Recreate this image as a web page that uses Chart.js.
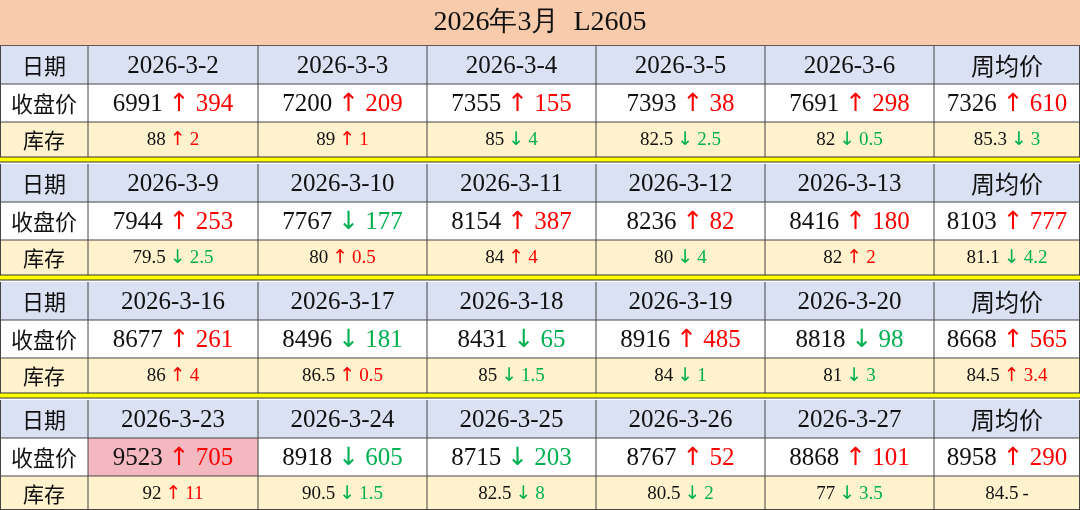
<!DOCTYPE html>
<html>
<head>
<meta charset="utf-8">
<script src="https://cdn.jsdelivr.net/npm/chart.js@4/dist/chart.umd.min.js"></script>
<style>
  html, body { margin: 0; padding: 0; background: #fff; }
  #wrap { width: 1080px; height: 510px; position: relative; }
</style>
</head>
<body>
<div id="wrap"><canvas id="c"></canvas></div>
<script>
const title = '2026年3月  L2605'
const rowLabels = ['日期', '收盘价', '库存']
const avgLabel = '周均价'

const dates = [
  ['2026-3-2', '2026-3-3', '2026-3-4', '2026-3-5', '2026-3-6'],
  ['2026-3-9', '2026-3-10', '2026-3-11', '2026-3-12', '2026-3-13'],
  ['2026-3-16', '2026-3-17', '2026-3-18', '2026-3-19', '2026-3-20'],
  ['2026-3-23', '2026-3-24', '2026-3-25', '2026-3-26', '2026-3-27']
]
// last entry of each week is the weekly average
const close = [
  [6991, 7200, 7355, 7393, 7691, 7326],
  [7944, 7767, 8154, 8236, 8416, 8103],
  [8677, 8496, 8431, 8916, 8818, 8668],
  [9523, 8918, 8715, 8767, 8868, 8958]
]
const closeChg = [
  [394, 209, 155, 38, 298, 610],
  [253, -177, 387, 82, 180, 777],
  [261, -181, -65, 485, -98, 565],
  [705, -605, -203, 52, 101, 290]
]
const stock = [
  [88, 89, 85, 82.5, 82, 85.3],
  [79.5, 80, 84, 80, 82, 81.1],
  [86, 86.5, 85, 84, 81, 84.5],
  [92, 90.5, 82.5, 80.5, 77, 84.5]
]
const stockChg = [
  [2, 1, -4, -2.5, -0.5, -3],
  [-2.5, 0.5, 4, -4, 2, -4.2],
  [4, 0.5, -1.5, -1, -3, 3.4],
  [11, -1.5, -8, -2, -3.5, 0]
]
const highlight = [[3, 0]] // week, day

// layout in scale units
const colEdges = [0, 88, 258, 427, 596, 765, 934, 1080]
const blockTops = [46, 164, 282, 400]
const rowH = [38, 38, 35]

const RED = '#ff0000'
const GREEN = '#00b050'
const serif = '"Liberation Serif", "DejaVu Serif", serif'
const cjk = '"Noto Sans CJK SC", sans-serif'

const tablePlugin = {
  id: 'table',
  afterDraw (chart) {
    const ctx = chart.ctx
    const xs = chart.scales.x
    const ys = chart.scales.y
    const X = v => xs.getPixelForValue(v)
    const Y = v => ys.getPixelForValue(v)
    const rect = (x0, y0, x1, y1, fill) => {
      ctx.fillStyle = fill
      ctx.fillRect(X(x0), Y(y0), X(x1) - X(x0), Y(y1) - Y(y0))
    }
    const line = (x0, y0, x1, y1, color, w) => {
      ctx.strokeStyle = color
      ctx.lineWidth = w
      ctx.beginPath()
      ctx.moveTo(X(x0), Y(y0))
      ctx.lineTo(X(x1), Y(y1))
      ctx.stroke()
    }
    // pieces: [{text, color, font}] centered at cx, cy
    const runs = (pieces, cx, cy, gap) => {
      let total = 0
      pieces.forEach((p, i) => {
        ctx.font = p.font
        p.w = ctx.measureText(p.text).width
        total += p.w + (i ? gap : 0)
      })
      let x = X(cx) - total / 2
      ctx.textBaseline = 'middle'
      ctx.textAlign = 'left'
      pieces.forEach(p => {
        ctx.font = p.font
        ctx.fillStyle = p.color
        ctx.fillText(p.text, x, Y(cy))
        x += p.w + gap
      })
    }
    const fmt = v => String(v)
    const changePieces = (v, chg, size) => {
      const f = `${size}px ${serif}`
      const out = [{ text: fmt(v), color: '#111', font: f }]
      if (chg === 0) {
        out.push({ text: '-', color: '#111', font: f })
      } else {
        const c = chg > 0 ? RED : GREEN
        out.push({ text: chg > 0 ? '↑' : '↓', color: c, font: `${size}px "DejaVu Sans", sans-serif` })
        out.push({ text: fmt(Math.abs(chg)), color: c, font: f })
      }
      return out
    }

    ctx.save()
    // title
    rect(0, 0, 1080, 46, '#f8cbad')
    runs([{ text: title, color: '#111', font: `28px ${serif}` }], 540, 23, 0)
    line(0, 46, 1080, 46, '#333', 1.5)

    blockTops.forEach((top, w) => {
      const r0 = top
      const r1 = r0 + rowH[0]
      const r2 = r1 + rowH[1]
      const r3 = r2 + rowH[2]
      rect(0, r0, 1080, r1, '#d9e1f2')
      rect(0, r1, 1080, r2, '#ffffff')
      rect(0, r2, 1080, r3, '#fff2cc')
      highlight.forEach(([hw, hd]) => {
        if (hw === w) rect(colEdges[hd + 1], r1, colEdges[hd + 2], r2, '#f4b8c0')
      })
      // labels
      const mids = [(r0 + r1) / 2, (r1 + r2) / 2, (r2 + r3) / 2]
      rowLabels.forEach((lab, i) => {
        runs([{ text: lab, color: '#111', font: `${i === 2 ? 21 : 22}px ${cjk}` }], 44, mids[i] + 1, 0)
      })
      for (let d = 0; d < 6; d++) {
        const cx = (colEdges[d + 1] + colEdges[d + 2]) / 2
        if (d < 5) runs([{ text: dates[w][d], color: '#111', font: `25px ${serif}` }], cx, mids[0] + 1, 0)
        else runs([{ text: avgLabel, color: '#111', font: `24px ${cjk}` }], cx, mids[0] + 1, 0)
        runs(changePieces(close[w][d], closeChg[w][d], 25), cx, mids[1] + 1, 6)
        runs(changePieces(stock[w][d], stockChg[w][d], 19), cx, mids[2] + 1, 4)
      }
      // grid
      ;[r1, r2].forEach(y => line(0, y, 1080, y, '#444', 1))
      colEdges.slice(1, -1).forEach(x => line(x, r0, x, r3, '#444', 1))
      line(0.5, r0, 0.5, r3, '#444', 1)
      line(1079.5, r0, 1079.5, r3, '#444', 1)
      if (w < 3) {
        rect(0, r3, 1080, r3 + 5, '#ffff00')
        line(0, r3, 1080, r3, '#333', 1.2)
        line(0, r3 + 5, 1080, r3 + 5, '#333', 1.2)
      } else {
        line(0, 509.5, 1080, 509.5, '#444', 1)
      }
    })
    ctx.restore()
  }
}

new Chart(document.getElementById('c'), {
  type: 'scatter',
  data: { datasets: [{ data: [], pointRadius: 0 }] },
  options: {
    responsive: true,
    maintainAspectRatio: false,
    animation: false,
    layout: { padding: 0 },
    plugins: { legend: { display: false }, tooltip: { enabled: false } },
    scales: {
      x: { type: 'linear', min: 0, max: 1080, display: false },
      y: { type: 'linear', min: 0, max: 510, reverse: true, display: false }
    }
  },
  plugins: [tablePlugin]
})
</script>
</body>
</html>
